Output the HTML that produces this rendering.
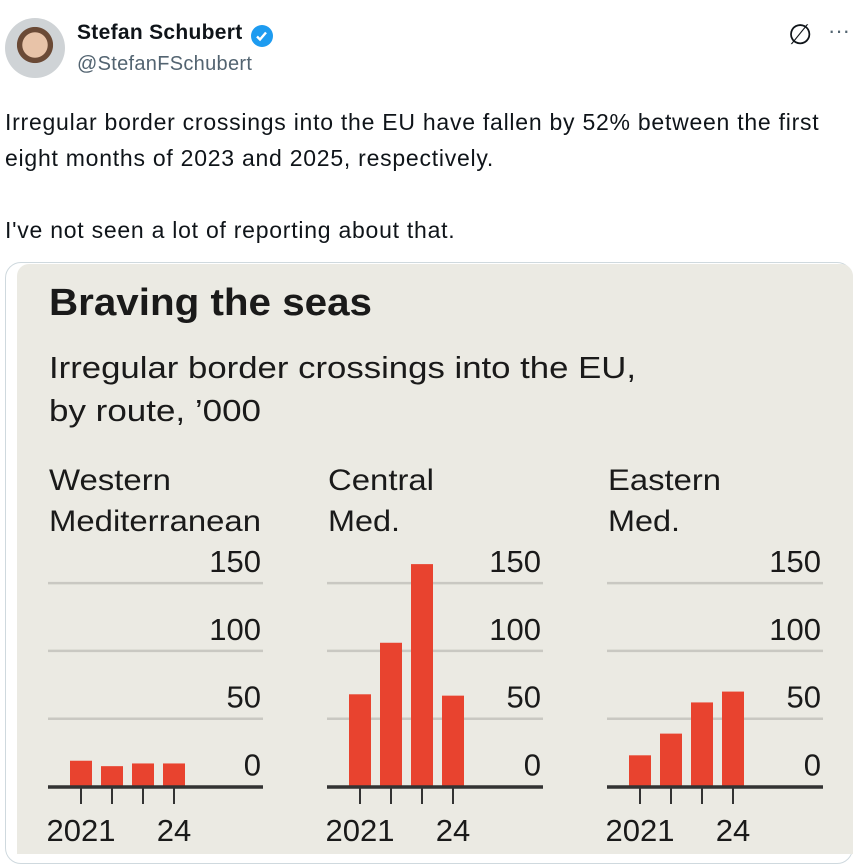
<!DOCTYPE html>
<html><head><meta charset="utf-8">
<style>
html,body{margin:0;padding:0;background:#fff;width:868px;height:845px;overflow:hidden;font-family:"Liberation Sans",sans-serif;}
.abs{position:absolute;}
</style></head>
<body>
<div class="abs" style="left:5px;top:18px;width:60px;height:60px;border-radius:50%;background:radial-gradient(circle at 50% 45%,#e8c3a8 0 28%,#6b4a36 29% 40%,#cfd3d6 41%);"></div>
<div class="abs" style="left:77px;top:21px;font-size:21px;font-weight:bold;color:#0f1419;letter-spacing:0.3px;">Stefan Schubert</div>
<svg class="abs" style="left:250px;top:24px" width="24" height="24" viewBox="0 0 24 24"><circle cx="12" cy="12" r="11" fill="#1d9bf0"/><path d="M7 12.5l3 3 6-7" stroke="#fff" stroke-width="2.4" fill="none"/></svg>
<div class="abs" style="left:77px;top:53px;font-size:20px;color:#536471;letter-spacing:0.3px;">@StefanFSchubert</div>
<div class="abs" style="left:788px;top:18px;font-size:28px;color:#0f1419;">∅</div>
<div class="abs" style="left:828px;top:18px;font-size:22px;color:#536471;">···</div>
<div class="abs" style="left:5px;top:104px;font-size:23px;letter-spacing:0.75px;line-height:36px;color:#0f1419;width:860px;white-space:nowrap;">Irregular border crossings into the EU have fallen by 52% between the first<br>eight months of 2023 and 2025, respectively.<br><br>I've not seen a lot of reporting about that.</div>
<div class="abs" style="left:5px;top:262px;width:846px;height:600px;border:1px solid #cfd9de;border-radius:16px;background:#fff;"></div>
<div class="abs" style="left:17px;top:264px;width:836px;height:590px;background:#ebeae3;border-radius:12px 12px 0 0;"></div>
<svg class="abs" id="chart" style="left:0;top:0" width="868" height="845"></svg>
<script>
const routes = ["Western Mediterranean","Central Med.","Eastern Med."];
const westernValues = [19, 15, 17, 17];
const centralValues = [68, 106, 164, 67];
const easternValues = [23, 39, 62, 70];
const yTicks = [0, 50, 100, 150];
const yearLabels = ["2021", "", "", "24"];
const NS = "http://www.w3.org/2000/svg";
const svg = document.getElementById('chart');
function mk(tag, attrs, parent){const e=document.createElementNS(NS,tag);for(const k in attrs)e.setAttribute(k,attrs[k]);(parent||svg).appendChild(e);return e;}
const F = '"Liberation Sans Narrow","Liberation Sans",sans-serif';
function yScale(v){return 786.5 - v*(67.8/50);}
let t;
t=mk('text',{x:49,y:315,'font-size':38,'font-weight':'bold','font-family':F,fill:'#1a1a1a',textLength:323,lengthAdjust:'spacingAndGlyphs'});t.textContent="Braving the seas";


t=mk('text',{x:49,y:378,'font-size':31,'font-family':F,fill:'#1a1a1a',textLength:587,lengthAdjust:'spacingAndGlyphs'});t.textContent="Irregular border crossings into the EU,";


t=mk('text',{x:49,y:421,'font-size':31,'font-family':F,fill:'#1a1a1a',textLength:212,lengthAdjust:'spacingAndGlyphs'});t.textContent="by route, \u2019000";


const panels = [
 {x0:48, x1:263, lines:["Western","Mediterranean"], widths:[122,212], vals:westernValues},
 {x0:327, x1:543, lines:["Central","Med."], widths:[106,72], vals:centralValues},
 {x0:607, x1:823, lines:["Eastern","Med."], widths:[113,72], vals:easternValues}
];
panels.forEach((p,pi)=>{
  p.lines.forEach((ln,i)=>{
    const e=mk('text',{x:p.x0+1,y:490+i*41,'font-size':30,'font-family':F,fill:'#1a1a1a',textLength:p.widths[i],lengthAdjust:'spacingAndGlyphs'});e.textContent=ln;
    
    
  });
  yTicks.forEach(v=>{
    const y=yScale(v);
    if(v>0){const g=mk('line',{x1:p.x0,x2:p.x1,y1:y,y2:y,stroke:'#c9c8c2','stroke-width':2.5});
      
      }
    const e=mk('text',{x:p.x1-2,y:y-11,'text-anchor':'end','font-size':31,'font-family':F,fill:'#1a1a1a'});e.textContent=v;
    
    
  });
  p.vals.forEach((v,i)=>{
    const cx=p.x0+33+i*31;
    const b=mk('rect',{x:cx-11,y:yScale(v),width:22,height:yScale(0)-yScale(v),fill:'#e8432f'});
    
    
    const tk=mk('line',{x1:cx,x2:cx,y1:786,y2:804,stroke:'#333','stroke-width':2});
    
    
    if(yearLabels[i]){const e=mk('text',{x:cx,y:841,'text-anchor':'middle','font-size':31,'font-family':F,fill:'#1a1a1a'});e.textContent=yearLabels[i];
      
      }
  });
  const ax=mk('line',{x1:p.x0,x2:p.x1,y1:787,y2:787,stroke:'#333','stroke-width':3.5});
  
  
});
</script>
</body></html>
